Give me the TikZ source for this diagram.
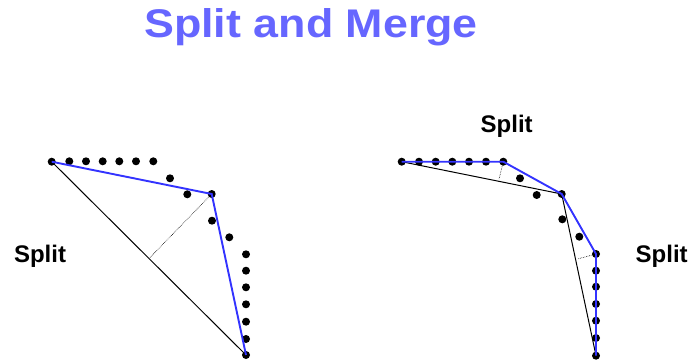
\documentclass[tikz,border=0pt]{standalone}
\usepackage{fontspec}
\setmainfont{Liberation Sans}
\definecolor{titleblue}{RGB}{102,102,255}
\definecolor{lineblue}{RGB}{51,51,255}
\tikzset{
  pt/.style={circle,fill=black,inner sep=0pt,minimum size=8pt},
  fitline/.style={lineblue,line width=1.9pt},
  chord/.style={black,line width=1pt},
  perp/.style={black,densely dotted,line width=0.6pt},
  lbl/.style={font=\fontsize{24}{28}\selectfont\bfseries,inner sep=0pt}
}
\begin{document}
\begin{tikzpicture}[x=1pt,y=-1pt]
\useasboundingbox (0,0) rectangle (692,361);
% title
\node[font=\fontsize{40}{48}\selectfont\bfseries,text=titleblue,xscale=1.12,inner sep=0pt] (title) at (311,27) {Split and Merge};
% ---------- left figure ----------
\node[pt] (A) at (51.7,161.7) {};
\foreach \x [count=\i] in {69.3,86,102.7,119.3,136,153.3} \node[pt] (a\i) at (\x,161.3) {};
\node[pt] (a7) at (170,178.3) {};
\node[pt] (a8) at (187.3,194.3) {};
\node[pt] (B) at (211.7,194) {};
\node[pt] (b1) at (212,220.7) {};
\node[pt] (b2) at (229.3,237.3) {};
\foreach \y [count=\i] in {254.3,270.7,287.3,304.3,321.7,339} \node[pt] (c\i) at (246,\y) {};
\node[pt] (C) at (246,355) {};
\coordinate (Fab) at (150,257.5);
\draw[chord] (A.center) -- (C.center);
\draw[perp] (B.center) -- (Fab);
\draw[fitline] (A.center) -- (B.center) -- (C.center);
\node[lbl] (s1) at (40,256.7) {Split};
% ---------- right figure ----------
\node[pt] (D) at (401.7,161.7) {};
\foreach \x [count=\i] in {419,435.7,452.3,469,486} \node[pt] (d\i) at (\x,161.7) {};
\node[pt] (E) at (503.3,161.7) {};
\node[pt] (e1) at (520,178.3) {};
\node[pt] (e2) at (536.7,195) {};
\node[pt] (F) at (561.7,194) {};
\node[pt] (f1) at (562.3,219.3) {};
\node[pt] (f2) at (579.3,236.7) {};
\node[pt] (G) at (596,254) {};
\foreach \y [count=\i] in {270.7,286.7,304,320.7,338} \node[pt] (g\i) at (596,\y) {};
\node[pt] (H) at (596,355.7) {};
\coordinate (Fe) at (499,179);
\coordinate (Fg) at (577.5,259);
\draw[chord] (D.center) -- (F.center) -- (H.center);
\draw[perp] (E.center) -- (Fe);
\draw[perp] (G.center) -- (Fg);
\draw[fitline] (D.center) -- (E.center) -- (F.center) -- (G.center) -- (H.center);
\node[lbl] (s2) at (506.7,126.7) {Split};
\node[lbl] (s3) at (661.7,256.7) {Split};
\end{tikzpicture}
\end{document}
